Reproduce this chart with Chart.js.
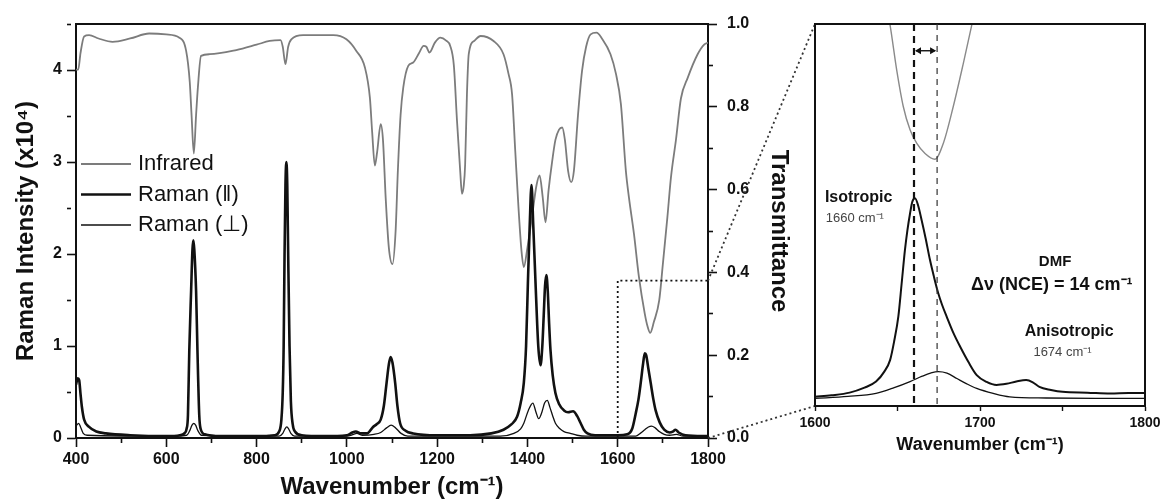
<!DOCTYPE html>
<html>
<head>
<meta charset="utf-8">
<script src="https://cdn.jsdelivr.net/npm/chart.js@4.4.0/dist/chart.umd.min.js"></script>
<style>
  html, body { margin: 0; padding: 0; background: #fff; }
  #wrap { position: relative; width: 1165px; height: 502px; }
  #mainChart { position: absolute; left: 0; top: 0; }
  #insetChart { position: absolute; top: 0; }
</style>
</head>
<body>
<div id="wrap">
  <canvas id="mainChart" width="800" height="502"></canvas>
  <canvas id="insetChart" width="465" height="502"></canvas>
</div>
<script>
// ---- data ----
// infrared transmittance (right axis)
const wnIR = [400, 405, 410, 418, 429, 450, 481, 520, 562, 600, 629, 644, 652, 656, 661, 666, 670, 677, 696, 755,
  800, 829, 853, 858, 864, 870, 877, 903, 970, 999, 1021, 1040, 1051, 1056, 1062, 1067, 1075, 1080, 1086, 1093,
  1101, 1108, 1113, 1119, 1125, 1136, 1147, 1160, 1170, 1176, 1183, 1195, 1207, 1220, 1229, 1237, 1244, 1251, 1255, 1259,
  1262, 1266, 1270, 1283, 1296, 1325, 1347, 1358, 1366, 1373, 1380, 1387, 1392, 1400, 1410, 1420, 1427, 1434, 1440, 1447,
  1455, 1462, 1470, 1477, 1483, 1490, 1497, 1503, 1512, 1521, 1530, 1540, 1553, 1565, 1584, 1596, 1607, 1618, 1625, 1636,
  1647, 1660, 1666, 1672, 1680, 1692, 1700, 1710, 1718, 1729, 1740, 1755, 1777, 1792, 1800];
const irT = [0.89, 0.89, 0.93, 0.97, 0.973, 0.965, 0.957, 0.965, 0.977, 0.975, 0.967, 0.935, 0.86, 0.78, 0.687, 0.78, 0.847, 0.923, 0.927, 0.937,
  0.95, 0.959, 0.961, 0.945, 0.903, 0.945, 0.963, 0.973, 0.973, 0.963, 0.935, 0.895, 0.822, 0.74, 0.658, 0.69, 0.758, 0.72, 0.58, 0.46,
  0.42, 0.5, 0.646, 0.78, 0.847, 0.899, 0.907, 0.93, 0.947, 0.945, 0.931, 0.955, 0.967, 0.96, 0.947, 0.9, 0.766, 0.646, 0.59, 0.61,
  0.66, 0.83, 0.927, 0.96, 0.971, 0.959, 0.927, 0.88, 0.83, 0.694, 0.56, 0.45, 0.413, 0.46, 0.533, 0.61, 0.634, 0.58, 0.521, 0.6,
  0.67, 0.72, 0.745, 0.75, 0.72, 0.646, 0.618, 0.646, 0.78, 0.887, 0.945, 0.975, 0.979, 0.965, 0.927, 0.88, 0.807, 0.646, 0.58, 0.493,
  0.389, 0.3, 0.27, 0.254, 0.28, 0.333, 0.42, 0.533, 0.63, 0.72, 0.82, 0.87, 0.927, 0.951, 0.955];

// Raman, parallel polarisation (left axis, x10^4)
const wnPar = [400, 404, 407, 410, 413, 418, 429, 445, 466, 520, 600, 630, 640, 645, 648, 651, 655, 658, 660, 662,
  666, 669, 673, 676, 685, 720, 800, 840, 850, 855, 858, 860, 862, 864, 866, 868, 870, 873, 876, 880,
  885, 900, 950, 1000, 1012, 1020, 1030, 1045, 1058, 1066, 1075, 1082, 1088, 1093, 1097, 1101, 1107, 1112, 1118, 1130,
  1147, 1200, 1273, 1320, 1347, 1365, 1377, 1385, 1392, 1397, 1401, 1405, 1409, 1413, 1418, 1424, 1429, 1433, 1436, 1439,
  1442, 1445, 1448, 1451, 1456, 1462, 1470, 1481, 1490, 1501, 1510, 1518, 1525, 1533, 1550, 1600, 1621, 1632, 1640, 1646,
  1651, 1656, 1660, 1663, 1668, 1673, 1679, 1684, 1693, 1703, 1715, 1722, 1728, 1735, 1750, 1800];
const ramanPar = [0.58, 0.65, 0.63, 0.48, 0.34, 0.2, 0.12, 0.07, 0.05, 0.03, 0.02, 0.03, 0.05, 0.1, 0.25, 0.96, 1.6, 2.05, 2.15, 2.05,
  1.6, 0.96, 0.25, 0.1, 0.04, 0.02, 0.02, 0.03, 0.07, 0.2, 0.5, 1.0, 2.0, 2.75, 3.0, 2.75, 2.0, 1.0, 0.4, 0.15,
  0.07, 0.03, 0.02, 0.03, 0.06, 0.07, 0.05, 0.05, 0.12, 0.15, 0.2, 0.35, 0.6, 0.8, 0.88, 0.82, 0.6, 0.35, 0.16, 0.08,
  0.05, 0.03, 0.03, 0.05, 0.09, 0.15, 0.23, 0.38, 0.6, 1.0, 1.68, 2.3, 2.75, 2.3, 1.68, 1.0, 0.79, 1.0, 1.32, 1.65,
  1.77, 1.6, 1.25, 0.96, 0.68, 0.49, 0.37, 0.3, 0.28, 0.29, 0.24, 0.16, 0.09, 0.05, 0.03, 0.03, 0.04, 0.1, 0.27, 0.42,
  0.6, 0.8, 0.92, 0.9, 0.75, 0.6, 0.42, 0.3, 0.17, 0.09, 0.06, 0.07, 0.09, 0.06, 0.03, 0.02];

// Raman, perpendicular polarisation
const wnPerp = [400, 406, 410, 416, 425, 600, 645, 652, 657, 661, 665, 670, 678, 850, 858, 863, 867, 871, 876, 884,
  1000, 1015, 1022, 1035, 1060, 1075, 1088, 1098, 1108, 1120, 1135, 1340, 1370, 1385, 1392, 1402, 1412, 1419, 1425, 1432,
  1438, 1444, 1450, 1456, 1462, 1472, 1481, 1495, 1510, 1530, 1640, 1650, 1660, 1668, 1675, 1683, 1692, 1703, 1715, 1730,
  1745, 1800];
const ramanPerp = [0.13, 0.16, 0.12, 0.05, 0.03, 0.02, 0.03, 0.08, 0.14, 0.16, 0.14, 0.08, 0.03, 0.02, 0.05, 0.1, 0.12, 0.1, 0.05, 0.02,
  0.02, 0.04, 0.05, 0.03, 0.04, 0.06, 0.11, 0.14, 0.11, 0.05, 0.02, 0.02, 0.05, 0.1, 0.16, 0.3, 0.38, 0.28, 0.21, 0.28,
  0.38, 0.41, 0.33, 0.24, 0.16, 0.1, 0.07, 0.05, 0.03, 0.02, 0.02, 0.05, 0.09, 0.12, 0.13, 0.11, 0.07, 0.04, 0.03, 0.04,
  0.02, 0.02];

// inset, 1600-1800 cm-1 (arbitrary units)
const wnInsetPar = [1600, 1610, 1621, 1630, 1637, 1642, 1645.5, 1648, 1650.5, 1652.5, 1654.5, 1656, 1657.6, 1659, 1660.6, 1662.5, 1664.6, 1667, 1669.7, 1672,
  1674.7, 1677, 1679.8, 1684, 1688, 1693, 1698, 1704, 1710, 1716, 1722, 1728, 1732, 1736, 1743, 1750, 1765, 1779, 1790, 1800];
const insetPar = [0.024, 0.028, 0.035, 0.048, 0.064, 0.09, 0.12, 0.17, 0.234, 0.32, 0.408, 0.46, 0.504, 0.535, 0.544, 0.525, 0.487, 0.44, 0.382, 0.34,
  0.295, 0.265, 0.234, 0.19, 0.155, 0.115, 0.081, 0.063, 0.055, 0.058, 0.064, 0.068, 0.062, 0.05, 0.042, 0.037, 0.035, 0.033, 0.034, 0.034];
const wnInsetPerp = [1600, 1620, 1637, 1648, 1657.6, 1665, 1670, 1674.7, 1680, 1686, 1692, 1698, 1708, 1718, 1740, 1770, 1800];
const insetPerp = [0.02, 0.025, 0.033, 0.048, 0.064, 0.078, 0.086, 0.09, 0.086, 0.072, 0.058, 0.046, 0.033, 0.024, 0.021, 0.02, 0.02];
const wnInsetIR = [1640, 1645.5, 1649.5, 1653.5, 1657.6, 1661.6, 1666.7, 1672.7, 1677.8, 1683.8, 1689.9, 1695, 1700];
const insetIR = [1.12, 0.997, 0.88, 0.784, 0.723, 0.688, 0.661, 0.646, 0.688, 0.784, 0.897, 0.997, 1.1];

// ticks and markers
const xMajor = [400, 600, 800, 1000, 1200, 1400, 1600, 1800];
const ramanMajor = [0, 1, 2, 3, 4];
const transMajor = [0, 0.2, 0.4, 0.6, 0.8, 1.0];
const insetMajor = [1600, 1700, 1800];
const zoomRange = [1600, 1800];
const zoomTop = 0.38;
const isoPeak = 1660;
const anisoPeak = 1674;

const INSET_LEFT = 700;
const FONT = '"Liberation Sans", Arial, sans-serif';
const INK = '#111';

Chart.defaults.font.family = FONT;
Chart.defaults.color = INK;

function pts(xs, ys) {
    return xs.map((x, i) => ({ x: x, y: ys[i] }));
}
function has(list, v) {
    return list.some(t => Math.abs(t - v) < 1e-6);
}
// minor ticks drawn short by dashing them
function tickDash(list) {
    return ctx => (ctx.tick && has(list, ctx.tick.value)) ? [] : [4, 40];
}

// draws top frame, dotted zoom box and legend on the main plot
const mainDecor = {
    id: 'mainDecor',
    afterDraw(chart) {
        const c = chart.ctx;
        const a = chart.chartArea;
        const x = chart.scales.x, y1 = chart.scales.y1;
        c.save();
        c.strokeStyle = INK;
        c.lineWidth = 2;
        c.beginPath();
        c.moveTo(a.left, a.top);
        c.lineTo(a.right, a.top);
        c.stroke();

        // dotted box around the zoomed region
        const bx = x.getPixelForValue(zoomRange[0]);
        const bx2 = x.getPixelForValue(zoomRange[1]);
        const by = y1.getPixelForValue(zoomTop);
        c.setLineDash([2, 3]);
        c.lineWidth = 1.8;
        c.beginPath();
        c.moveTo(bx, a.bottom);
        c.lineTo(bx, by);
        c.lineTo(bx2, by);
        c.stroke();
        c.setLineDash([]);

        // legend
        const order = [2, 0, 1];
        order.forEach((di, k) => {
            const ds = chart.data.datasets[di];
            const ly = a.top + 140 + k * 30.5;
            c.strokeStyle = ds.borderColor;
            c.lineWidth = ds.borderWidth;
            c.beginPath();
            c.moveTo(a.left + 5, ly);
            c.lineTo(a.left + 55, ly);
            c.stroke();
            c.fillStyle = INK;
            c.font = '22px ' + FONT;
            c.textBaseline = 'middle';
            c.textAlign = 'left';
            c.fillText(ds.label, a.left + 62, ly);
        });
        c.restore();
    }
};

const mainChart = new Chart(document.getElementById('mainChart'), {
    type: 'line',
    data: {
        datasets: [
            {
                label: 'Raman (\u2016)',
                data: pts(wnPar, ramanPar),
                yAxisID: 'y',
                borderColor: INK,
                borderWidth: 2.6,
                pointRadius: 0,
                cubicInterpolationMode: 'monotone'
            },
            {
                label: 'Raman (\u22A5)',
                data: pts(wnPerp, ramanPerp),
                yAxisID: 'y',
                borderColor: INK,
                borderWidth: 1.3,
                pointRadius: 0,
                cubicInterpolationMode: 'monotone'
            },
            {
                label: 'Infrared',
                data: pts(wnIR, irT),
                yAxisID: 'y1',
                borderColor: '#7c7c7c',
                borderWidth: 1.8,
                pointRadius: 0,
                cubicInterpolationMode: 'monotone'
            }
        ]
    },
    options: {
        responsive: false,
        animation: false,
        layout: { padding: { top: 24, left: 0, right: 0, bottom: 0 } },
        plugins: { legend: { display: false }, tooltip: { enabled: false } },
        scales: {
            x: {
                type: 'linear',
                min: 400,
                max: 1800,
                afterFit: s => { s.height = 64; },
                ticks: {
                    stepSize: 100,
                    autoSkip: false,
                    maxRotation: 0,
                    padding: 3,
                    font: { size: 16, weight: 'bold' },
                    callback: v => has(xMajor, v) ? String(v) : ''
                },
                grid: { drawOnChartArea: false, tickLength: 9, tickWidth: 1.6, tickColor: INK, tickBorderDash: tickDash(xMajor) },
                border: { color: INK, width: 2 },
                title: {
                    display: true,
                    text: 'Wavenumber (cm\u207B\u00B9)',
                    font: { size: 24, weight: 'bold' },
                    padding: { top: 0, bottom: 0 }
                }
            },
            y: {
                position: 'left',
                min: 0,
                max: 4.5,
                afterFit: s => { s.width = 76; },
                ticks: {
                    stepSize: 0.5,
                    autoSkip: false,
                    padding: 5,
                    font: { size: 16, weight: 'bold' },
                    callback: v => has(ramanMajor, v) ? String(v) : ''
                },
                grid: { drawOnChartArea: false, tickLength: 9, tickWidth: 1.6, tickColor: INK, tickBorderDash: tickDash(ramanMajor) },
                border: { color: INK, width: 2 },
                title: {
                    display: true,
                    text: 'Raman Intensity (x10\u2074)',
                    font: { size: 24, weight: 'bold' },
                    padding: { top: 12, bottom: 0 }
                }
            },
            y1: {
                position: 'right',
                min: 0,
                max: 1,
                afterFit: s => { s.width = 92; },
                ticks: {
                    stepSize: 0.1,
                    autoSkip: false,
                    padding: 10,
                    font: { size: 16, weight: 'bold' },
                    callback: v => has(transMajor, v) ? v.toFixed(1) : ''
                },
                grid: { drawOnChartArea: false, tickLength: 9, tickWidth: 1.6, tickColor: INK, tickBorderDash: tickDash(transMajor) },
                border: { color: INK, width: 2 },
                title: {
                    display: true,
                    text: 'Transmittance',
                    font: { size: 24, weight: 'bold' },
                    padding: { top: 7, bottom: 0 }
                }
            }
        }
    },
    plugins: [mainDecor]
});

// frame, peak markers, annotations and zoom connectors for the inset
const insetDecor = {
    id: 'insetDecor',
    beforeDraw(chart) {
        // dotted connectors from the zoom box on the main plot
        const c = chart.ctx;
        const a = chart.chartArea;
        const mx = mainChart.scales.x.getPixelForValue(zoomRange[1]) - INSET_LEFT;
        const myTop = mainChart.scales.y1.getPixelForValue(zoomTop);
        const myBot = mainChart.scales.y1.getPixelForValue(0);
        c.save();
        c.strokeStyle = '#333';
        c.lineWidth = 1.8;
        c.setLineDash([2, 3]);
        c.beginPath();
        c.moveTo(mx, myTop);
        c.lineTo(a.left, a.top);
        c.moveTo(mx, myBot);
        c.lineTo(a.left, a.bottom);
        c.stroke();
        c.restore();
    },
    afterDraw(chart) {
        const c = chart.ctx;
        const a = chart.chartArea;
        const x = chart.scales.x, y = chart.scales.y;
        c.save();
        c.strokeStyle = INK;
        c.lineWidth = 2;
        c.strokeRect(a.left, a.top, a.right - a.left, a.bottom - a.top);

        // dashed peak markers
        const px1 = x.getPixelForValue(isoPeak);
        const px2 = x.getPixelForValue(anisoPeak);
        c.setLineDash([7, 5]);
        c.lineWidth = 2.2;
        c.beginPath();
        c.moveTo(px1, a.top);
        c.lineTo(px1, a.bottom);
        c.stroke();
        c.setLineDash([6, 5]);
        c.lineWidth = 1.2;
        c.strokeStyle = '#333';
        c.beginPath();
        c.moveTo(px2, a.top);
        c.lineTo(px2, a.bottom);
        c.stroke();
        c.setLineDash([]);

        // double arrow between the markers
        const ay = y.getPixelForValue(0.93);
        c.strokeStyle = INK;
        c.fillStyle = INK;
        c.lineWidth = 1.4;
        c.beginPath();
        c.moveTo(px1 + 2, ay);
        c.lineTo(px2 - 2, ay);
        c.stroke();
        c.beginPath();
        c.moveTo(px1 + 1, ay);
        c.lineTo(px1 + 7, ay - 3.5);
        c.lineTo(px1 + 7, ay + 3.5);
        c.closePath();
        c.moveTo(px2 - 1, ay);
        c.lineTo(px2 - 7, ay - 3.5);
        c.lineTo(px2 - 7, ay + 3.5);
        c.closePath();
        c.fill();

        // labels
        c.textBaseline = 'middle';
        c.textAlign = 'left';
        c.fillStyle = INK;
        c.font = 'bold 16px ' + FONT;
        c.fillText('Isotropic', x.getPixelForValue(1606), y.getPixelForValue(0.545));
        c.fillStyle = '#444';
        c.font = '13px ' + FONT;
        c.fillText('1660 cm\u207B\u00B9', x.getPixelForValue(1606.5), y.getPixelForValue(0.49));

        c.textAlign = 'center';
        c.fillStyle = INK;
        c.font = 'bold 15px ' + FONT;
        c.fillText('DMF', x.getPixelForValue(1745.5), y.getPixelForValue(0.377));
        c.font = 'bold 18px ' + FONT;
        c.fillText('\u0394\u03BD (NCE) = 14 cm\u207B\u00B9', x.getPixelForValue(1743.5), y.getPixelForValue(0.317));
        c.font = 'bold 16px ' + FONT;
        c.fillText('Anisotropic', x.getPixelForValue(1754), y.getPixelForValue(0.194));
        c.fillStyle = '#444';
        c.font = '13px ' + FONT;
        c.fillText('1674 cm\u207B\u00B9', x.getPixelForValue(1750), y.getPixelForValue(0.141));
        c.restore();
    }
};

const insetCanvas = document.getElementById('insetChart');
insetCanvas.style.left = INSET_LEFT + 'px';

new Chart(insetCanvas, {
    type: 'line',
    data: {
        datasets: [
            {
                label: 'Raman (\u2016)',
                data: pts(wnInsetPar, insetPar),
                borderColor: INK,
                borderWidth: 2,
                pointRadius: 0,
                cubicInterpolationMode: 'monotone'
            },
            {
                label: 'Raman (\u22A5)',
                data: pts(wnInsetPerp, insetPerp),
                borderColor: INK,
                borderWidth: 1.3,
                pointRadius: 0,
                cubicInterpolationMode: 'monotone'
            },
            {
                label: 'Infrared',
                data: pts(wnInsetIR, insetIR),
                borderColor: '#8a8a8a',
                borderWidth: 1.4,
                pointRadius: 0,
                cubicInterpolationMode: 'monotone'
            }
        ]
    },
    options: {
        responsive: false,
        animation: false,
        layout: { padding: { top: 24, left: 115, right: 20, bottom: 0 } },
        plugins: { legend: { display: false }, tooltip: { enabled: false } },
        scales: {
            x: {
                type: 'linear',
                min: 1600,
                max: 1800,
                afterFit: s => { s.height = 96; },
                ticks: {
                    stepSize: 50,
                    autoSkip: false,
                    maxRotation: 0,
                    padding: 4,
                    font: { size: 14, weight: 'bold' },
                    callback: v => has(insetMajor, v) ? String(v) : ''
                },
                grid: { drawOnChartArea: false, tickLength: 5, tickWidth: 1.4, tickColor: INK },
                border: { color: INK, width: 2 },
                title: {
                    display: true,
                    text: 'Wavenumber (cm\u207B\u00B9)',
                    font: { size: 18, weight: 'bold' },
                    padding: { top: 0, bottom: 46 }
                }
            },
            y: {
                display: false,
                min: 0,
                max: 1
            }
        }
    },
    plugins: [insetDecor]
});
</script>
</body>
</html>
